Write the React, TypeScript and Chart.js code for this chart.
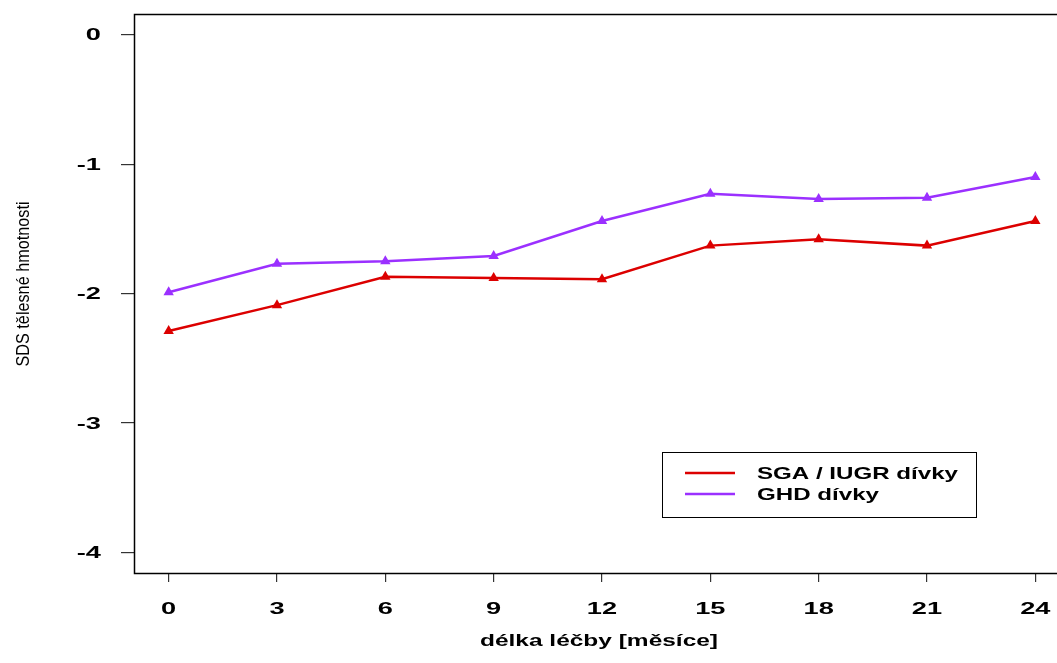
import React, { useEffect, useRef } from "react";
import { Chart, registerables } from "chart.js";

Chart.register(...registerables);

const months = [0, 3, 6, 9, 12, 15, 18, 21, 24];
const sgaValues = [-2.29, -2.09, -1.87, -1.88, -1.89, -1.63, -1.58, -1.63, -1.44];
const ghdValues = [-1.99, -1.77, -1.75, -1.71, -1.44, -1.23, -1.27, -1.26, -1.1];
const xTicks = [0, 3, 6, 9, 12, 15, 18, 21, 24];
const yTicks = [-4, -3, -2, -1, 0];
const seriesLabels = ["SGA / IUGR dívky", "GHD dívky"];
const xTitle = "délka léčby [měsíce]";
const yTitle = "SDS tělesné hmotnosti";

const RED = "#dc0000";
const PURPLE = "#9b30ff";
const FONT = "'Liberation Sans', Arial, sans-serif";

function stretchText(
  ctx: CanvasRenderingContext2D,
  text: string,
  x: number,
  y: number,
  font: string,
  sx: number,
  align: "left" | "center" | "right",
  rotate = 0
) {
  ctx.save();
  ctx.font = font;
  ctx.textBaseline = "middle";
  ctx.textAlign = "left";
  const w = ctx.measureText(text).width * sx;
  ctx.translate(x, y);
  if (rotate) ctx.rotate(rotate);
  let off = 0;
  if (align === "center") off = -w / 2;
  else if (align === "right") off = -w;
  ctx.translate(off, 0);
  ctx.scale(sx, 1);
  ctx.fillStyle = "#000";
  ctx.fillText(text, 0, 0);
  ctx.restore();
}

function fitScale(ctx: CanvasRenderingContext2D, text: string, font: string, target: number) {
  ctx.save();
  ctx.font = font;
  const w = ctx.measureText(text).width;
  ctx.restore();
  return target / w;
}

const decorPlugin = {
  id: "decor",
  afterDraw(chart: any) {
    const ctx: CanvasRenderingContext2D = chart.ctx;
    const a = chart.chartArea;
    const xs = chart.scales.x;
    const ys = chart.scales.y;
    // frame
    ctx.save();
    ctx.strokeStyle = "#000";
    ctx.lineWidth = 1.5;
    ctx.strokeRect(a.left + 0.5, a.top + 0.5, a.right - a.left, a.bottom - a.top);
    ctx.restore();

    const tickFont = `bold 17px ${FONT}`;
    const tickSx = 1.6;
    yTicks.forEach((v) => {
      stretchText(ctx, String(v), 101, ys.getPixelForValue(v) + 1, tickFont, tickSx, "right");
    });
    xTicks.forEach((v) => {
      stretchText(ctx, String(v), xs.getPixelForValue(v), 609, tickFont, tickSx, "center");
    });

    // axis titles
    const xtFont = `bold 17px ${FONT}`;
    stretchText(ctx, xTitle, 599, 641, xtFont, fitScale(ctx, xTitle, xtFont, 238), "center");
    const ytFont = `18px ${FONT}`;
    stretchText(ctx, yTitle, 24, 284, ytFont, fitScale(ctx, yTitle, ytFont, 165), "center", -Math.PI / 2);

    // legend
    ctx.save();
    ctx.fillStyle = "#fff";
    ctx.fillRect(662, 452, 314, 65);
    ctx.strokeStyle = "#000";
    ctx.lineWidth = 1;
    ctx.strokeRect(662.5, 452.5, 314, 65);
    const legY = [473, 494];
    const legColors = [RED, PURPLE];
    const legFont = `bold 17px ${FONT}`;
    const legSx = fitScale(ctx, seriesLabels[0], legFont, 201);
    seriesLabels.forEach((lab, i) => {
      ctx.strokeStyle = legColors[i];
      ctx.lineWidth = 2.5;
      ctx.beginPath();
      ctx.moveTo(685, legY[i]);
      ctx.lineTo(735, legY[i]);
      ctx.stroke();
      stretchText(ctx, lab, 757, legY[i] + 1, legFont, legSx, "left");
    });
    ctx.restore();
  },
};

export default function App() {
  const ref = useRef<HTMLCanvasElement>(null);
  useEffect(() => {
    if (!ref.current) return;
    const chart = new Chart(ref.current, {
      type: "line",
      data: {
        datasets: [
          {
            label: seriesLabels[0],
            data: months.map((m, i) => ({ x: m, y: sgaValues[i] })),
            borderColor: RED,
            backgroundColor: RED,
            borderWidth: 2.5,
            pointStyle: "triangle",
            pointRadius: 6,
            pointBorderWidth: 0,
            tension: 0,
          },
          {
            label: seriesLabels[1],
            data: months.map((m, i) => ({ x: m, y: ghdValues[i] })),
            borderColor: PURPLE,
            backgroundColor: PURPLE,
            borderWidth: 2.5,
            pointStyle: "triangle",
            pointRadius: 6,
            pointBorderWidth: 0,
            tension: 0,
          },
        ],
      },
      options: {
        animation: false,
        responsive: false,
        devicePixelRatio: 1,
        layout: { padding: { left: 0, top: 14, right: 10, bottom: 0 } },
        plugins: { legend: { display: false }, tooltip: { enabled: false } },
        scales: {
          x: {
            type: "linear",
            min: -0.96,
            max: 24.96,
            afterBuildTicks: (s: any) => {
              s.ticks = xTicks.map((v) => ({ value: v }));
            },
            afterFit: (s: any) => {
              s.height = 90;
            },
            ticks: { display: false },
            border: { display: false },
            grid: { drawOnChartArea: false, drawTicks: true, tickLength: 9, color: "#333", lineWidth: 1.2 },
          },
          y: {
            type: "linear",
            min: -4.16,
            max: 0.16,
            afterBuildTicks: (s: any) => {
              s.ticks = yTicks.map((v) => ({ value: v }));
            },
            afterFit: (s: any) => {
              s.width = 134;
            },
            ticks: { display: false },
            border: { display: false },
            grid: { drawOnChartArea: false, drawTicks: true, tickLength: 13, color: "#333", lineWidth: 1.2 },
          },
        },
      },
      plugins: [decorPlugin],
    } as any);
    return () => chart.destroy();
  }, []);
  return (
    <div
      style={{
        position: "fixed",
        left: 0,
        top: 0,
        width: 1057,
        height: 663,
        overflow: "hidden",
        background: "#fff",
      }}
    >
      <canvas ref={ref} width={1080} height={663} style={{ width: 1080, height: 663, display: "block" }} />
    </div>
  );
}
